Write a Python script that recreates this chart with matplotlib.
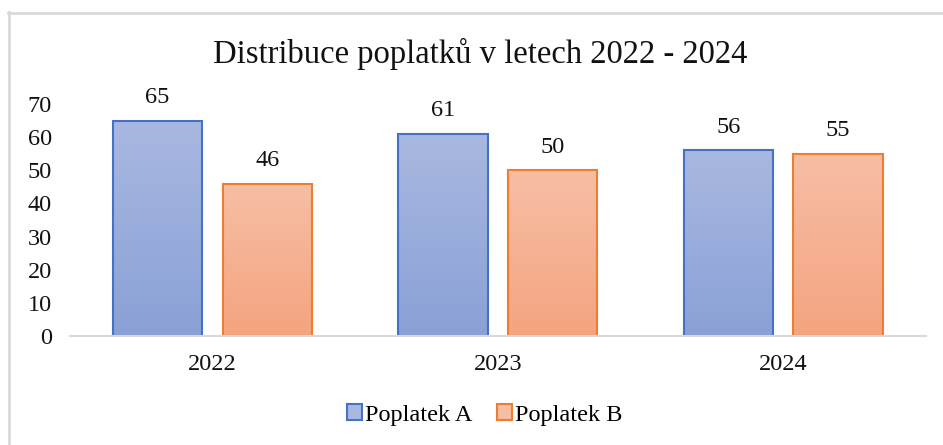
import numpy as np
import matplotlib
matplotlib.use("Agg")
import matplotlib.pyplot as plt
from matplotlib.colors import LinearSegmentedColormap
from matplotlib.lines import Line2D
from matplotlib.patches import Patch

# data
years = ["2022", "2023", "2024"]
poplatek_a = [65, 61, 56]
poplatek_b = [46, 50, 55]
series_names = ["Poplatek A", "Poplatek B"]

plt.rcParams["font.family"] = ["Liberation Serif", "DejaVu Serif"]

W, H = 943, 445
fig = plt.figure(figsize=(W / 100, H / 100), dpi=100)
ax = fig.add_axes([69.75 / W, 1 - 336 / H, (925.75 - 69.75) / W, (336 - 104) / H])

x = np.arange(len(years))
width = 0.313
offset = 0.192
fs = 17.5

# edge, gradient top, gradient bottom
styles = [
    ("#4472C4", "#A9B8E1", "#8AA1D6"),
    ("#ED7D31", "#F7BEA4", "#F4A480"),
]

for k, vals in enumerate([poplatek_a, poplatek_b]):
    edge, top, bottom = styles[k]
    cmap = LinearSegmentedColormap.from_list(f"g{k}", [bottom, top])
    xs = x + (-offset if k == 0 else offset)
    bars = ax.bar(xs, vals, width, facecolor="none", edgecolor=edge, linewidth=1.5,
                  zorder=3)
    for b, v in zip(bars, vals):
        x0 = b.get_x()
        grad = np.linspace(0, 1, 256).reshape(-1, 1)
        im = ax.imshow(grad, cmap=cmap, origin="lower", aspect="auto",
                       extent=(x0, x0 + width, 0, v), zorder=2)
        im.set_clip_path(b)
        ax.text(x0 + width / 2, v + 5.3, str(v), ha="center", va="baseline",
                fontsize=fs, color="#111111")

ax.set_xlim(-0.5, len(years) - 0.5)
ax.set_ylim(0, 70)
ax.set_yticks(range(0, 71, 10))
ax.set_xticks(x)
ax.set_xticklabels(years)
ax.tick_params(axis="both", length=0, labelsize=fs, colors="#111111")
ax.tick_params(axis="y", pad=13)
ax.tick_params(axis="x", pad=13)
for s in ["top", "right", "left"]:
    ax.spines[s].set_visible(False)
ax.spines["bottom"].set_color("#D9D9D9")
ax.spines["bottom"].set_linewidth(1.5)
ax.spines["bottom"].set_zorder(4)

fig.text(480 / W, 1 - 63 / H, "Distribuce poplatků v letech 2022 - 2024",
         ha="center", va="baseline", fontsize=23.5, color="#111111")

handles = [Patch(facecolor=top, edgecolor=edge, linewidth=1.5)
           for edge, top, bottom in styles]
fig.legend(handles, series_names, loc="center", bbox_to_anchor=(485 / W, 1 - 415 / H),
           ncol=2, frameon=False, fontsize=fs, handlelength=0.6, handleheight=0.6,
           handletextpad=0.15, columnspacing=1.0)

# chart border (left and top visible)
fig.add_artist(Line2D([9 / W, 9 / W], [0, 1 - 12 / H], transform=fig.transFigure,
                      color="#D9D9D9", linewidth=2))
fig.add_artist(Line2D([8 / W, 1], [1 - 13 / H, 1 - 13 / H], transform=fig.transFigure,
                      color="#D9D9D9", linewidth=2))

fig.savefig("out.png", dpi=100)
